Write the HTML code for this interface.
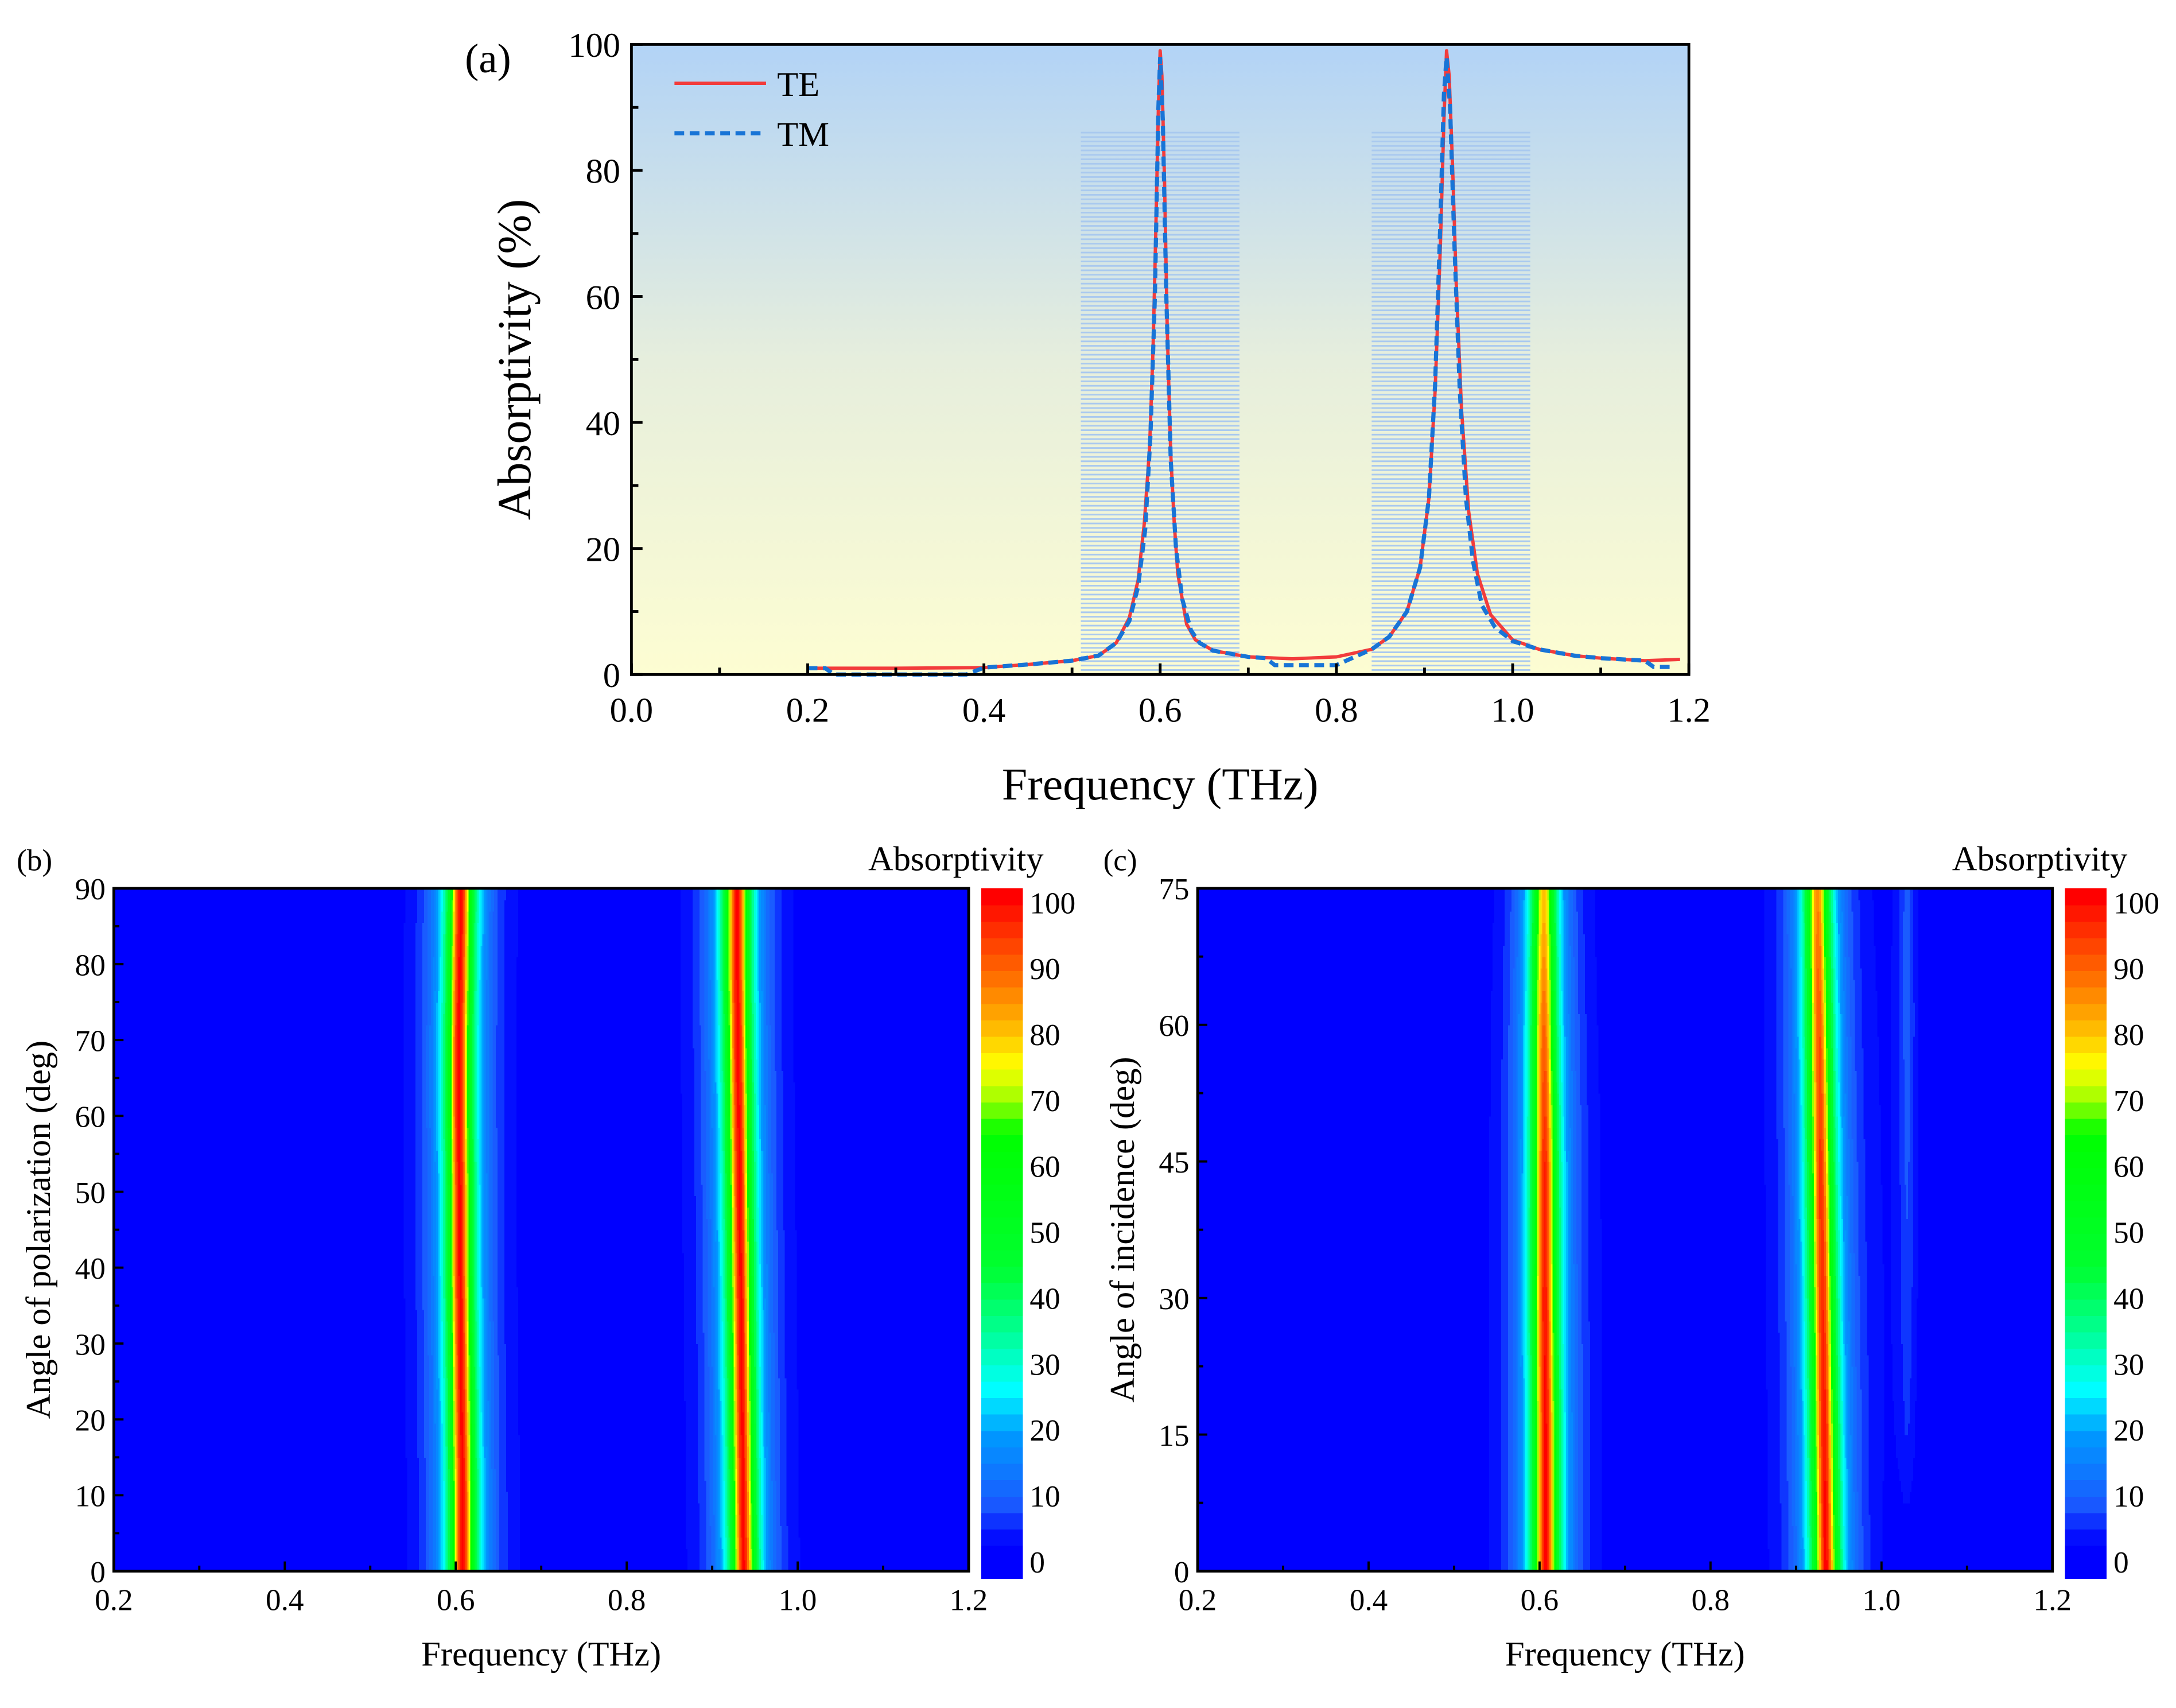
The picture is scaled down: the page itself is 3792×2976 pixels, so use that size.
<!DOCTYPE html>
<html><head><meta charset="utf-8">
<style>
html,body{margin:0;padding:0;background:#fff;}
svg{display:block;}
text{font-family:"Liberation Serif",serif;fill:#000;}
</style></head>
<body>
<svg id="fig" xmlns="http://www.w3.org/2000/svg" width="3792" height="2976" viewBox="0 0 1568 1230.6">
<defs>
<linearGradient id="bgGrad" x1="0" y1="0" x2="0" y2="1">
<stop offset="0" stop-color="#b2d3f6"/>
<stop offset="0.5" stop-color="#e6eedd"/>
<stop offset="1" stop-color="#fdfdd2"/>
</linearGradient>
</defs>
<g id="panelA"></g>
<g id="panelB"></g>
<g id="panelC"></g>
</svg>
<script>
// ---------- Panel (a) data ----------
const teFreq = [0.2,0.3,0.4,0.45,0.5,0.53,0.55,0.565,0.575,0.582,0.588,0.592,0.595,0.598,0.6,0.602,0.605,0.608,0.612,0.616,0.62,0.63,0.64,0.66,0.7,0.75,0.8,0.84,0.86,0.88,0.895,0.905,0.912,0.918,0.922,0.925,0.928,0.932,0.936,0.942,0.95,0.96,0.975,1.0,1.03,1.07,1.1,1.15,1.19];
const teVal  = [1.0,1.0,1.1,1.6,2.2,3.0,5.0,9.0,15,24,36,52,70,90,99,95,78,55,35,24,16,8,5.5,3.8,2.8,2.5,2.8,4.0,6.0,10,17,28,45,68,88,99,95,80,62,42,26,16,9.5,5.5,4.0,3.0,2.6,2.2,2.4];
const tmFreq = [0.2,0.22,0.23,0.38,0.4,0.45,0.5,0.53,0.55,0.565,0.575,0.583,0.589,0.594,0.598,0.6,0.603,0.607,0.612,0.618,0.625,0.635,0.645,0.66,0.7,0.72,0.73,0.8,0.84,0.86,0.88,0.895,0.905,0.912,0.918,0.922,0.925,0.929,0.934,0.94,0.947,0.955,0.965,0.98,1.0,1.03,1.07,1.1,1.15,1.16,1.18];
const tmVal  = [1.0,1.0,0.0,0.0,1.1,1.6,2.2,3.0,5.0,8.5,14,23,38,60,90,98,88,60,34,20,12,7,5,3.8,2.8,2.6,1.5,1.5,4.0,6.0,10,17,28,46,72,92,98,90,68,45,28,18,11,7.5,5.3,4.0,3.0,2.6,2.2,1.2,1.2];
const aXTicks = ["0.0","0.2","0.4","0.6","0.8","1.0","1.2"];
const aYTicks = ["0","20","40","60","80","100"];
const hatchBands = [[0.51,0.69],[0.84,1.02]];

// ---------- Panel (b) data ----------
const bAngles = [0,10,20,30,40,50,60,70,80,90];
const bPeak1  = [0.608,0.608,0.607,0.606,0.605,0.605,0.604,0.604,0.605,0.606];
const bAmp1   = [100,100,100,100,100,100,100,100,100,100];
const bPeak2  = [0.937,0.936,0.935,0.934,0.933,0.932,0.931,0.930,0.929,0.929];
const bAmp2   = [100,100,100,100,100,100,100,100,100,100];
const bXTicks = ["0.2","0.4","0.6","0.8","1.0","1.2"];
const bYTicks = ["0","10","20","30","40","50","60","70","80","90"];

// ---------- Panel (c) data ----------
const cAngles = [0,15,30,45,60,75];
const cPeak1  = [0.607,0.607,0.606,0.606,0.605,0.605];
const cAmp1   = [100,100,99,97,90,80];
const cPeak2  = [0.935,0.933,0.931,0.929,0.927,0.925];
const cAmp2   = [100,99,97,95,92,86];
const cPeak3  = [1.03,1.03,1.03,1.03,1.03,1.03];
const cAmp3   = [0,5,7,8,9,9];
const cYTicks = ["0","15","30","45","60","75"];

// ---------- Colorbar ----------
const cbTicks = ["0","10","20","30","40","50","60","70","80","90","100"];
const cmapPos = [0,4,10,20,27,35,45,65,70,75,80,88,95,100];
const cmapCol = ["#0000ff","#0000ff","#1a5cff","#0098ff","#00ffff","#00ff99","#00ff30","#00ff00","#a0ff00","#ffff00","#ffc000","#ff7000","#ff3000","#ff0000"];

const NS="http://www.w3.org/2000/svg";
function mk(parent, tag, attrs, txt){
  const e=document.createElementNS(NS,tag);
  for(const k in attrs) e.setAttribute(k,attrs[k]);
  if(txt!==undefined) e.textContent=txt;
  parent.appendChild(e); return e;
}
function hex2rgb(h){return [parseInt(h.substr(1,2),16),parseInt(h.substr(3,2),16),parseInt(h.substr(5,2),16)];}
function cmap(v){
  v=Math.max(0,Math.min(100,v));
  for(let i=0;i<cmapPos.length-1;i++){
    if(v<=cmapPos[i+1]){
      const t=(v-cmapPos[i])/(cmapPos[i+1]-cmapPos[i]);
      const a=hex2rgb(cmapCol[i]), b=hex2rgb(cmapCol[i+1]);
      return "rgb("+a.map((x,j)=>Math.round(x+(b[j]-x)*t)).join(",")+")";
    }
  }
  return cmapCol[cmapCol.length-1];
}
function interp(xs,ys,x){
  if(x<=xs[0]) return ys[0];
  for(let i=0;i<xs.length-1;i++){ if(x<=xs[i+1]){const t=(x-xs[i])/(xs[i+1]-xs[i]);return ys[i]+(ys[i+1]-ys[i])*t;} }
  return ys[ys.length-1];
}

// ================= Panel A =================
(function(){
  const g=document.getElementById('panelA');
  const L=455,R=1217,T=32,B=486;
  const xs=f=>L+f/1.2*(R-L), ys=v=>B-v/100*(B-T);
  let r=mk(g,'rect',{x:L,y:T,width:R-L,height:B-T,fill:'url(#bgGrad)'});
   
  hatchBands.forEach((bd,i)=>{
    const hg=mk(g,'g',{stroke:'#a9c9ef','stroke-width':1.2});
     
    for(let y=ys(86);y<B;y+=3.2){ mk(hg,'line',{x1:xs(bd[0]),x2:xs(bd[1]),y1:y,y2:y}); }
  });
  let p=mk(g,'polyline',{points:teFreq.map((f,i)=>xs(f)+","+ys(teVal[i])).join(" "),fill:'none',stroke:'#f23c3c','stroke-width':2.4,'stroke-linejoin':'round'});
   
  p=mk(g,'polyline',{points:tmFreq.map((f,i)=>xs(f)+","+ys(tmVal[i])).join(" "),fill:'none',stroke:'#1874d6','stroke-width':3,'stroke-dasharray':'7,4'});
   
  r=mk(g,'rect',{x:L,y:T,width:R-L,height:B-T,fill:'none',stroke:'#000','stroke-width':2});
   
  aXTicks.forEach((t,i)=>{
    const f=i*0.2, x=xs(f);
    mk(g,'line',{x1:x,x2:x,y1:B,y2:B-8,stroke:'#000','stroke-width':2});
    if(i<aXTicks.length-1) mk(g,'line',{x1:xs(f+0.1),x2:xs(f+0.1),y1:B,y2:B-5,stroke:'#000','stroke-width':2});
    const tx=mk(g,'text',{x:x,y:B+34,'font-size':25,'text-anchor':'middle'},t);
     
  });
  aYTicks.forEach((t,i)=>{
    const v=i*20, y=ys(v);
    mk(g,'line',{x1:L,x2:L+8,y1:y,y2:y,stroke:'#000','stroke-width':2});
    if(v<100) mk(g,'line',{x1:L,x2:L+5,y1:ys(v+10),y2:ys(v+10),stroke:'#000','stroke-width':2});
    const tx=mk(g,'text',{x:L-8,y:y+9,'font-size':25,'text-anchor':'end'},t);
     
  });
  let t=mk(g,'text',{x:(L+R)/2,y:576,'font-size':33,'text-anchor':'middle'},'Frequency (THz)');
   
  t=mk(g,'text',{x:0,y:0,'font-size':34,'text-anchor':'middle',transform:'translate(382,259) rotate(-90)'},'Absorptivity (%)');
   
  t=mk(g,'text',{x:335,y:52,'font-size':30},'(a)');
   
  const lg=mk(g,'g',{});
   
  let e=mk(lg,'line',{x1:486,x2:552,y1:60,y2:60,stroke:'#f23c3c','stroke-width':2.4});
   
  e=mk(lg,'text',{x:560,y:69,'font-size':25},'TE');
   
  e=mk(lg,'line',{x1:486,x2:552,y1:96,y2:96,stroke:'#1874d6','stroke-width':3,'stroke-dasharray':'7,4'});
   
  e=mk(lg,'text',{x:560,y:105,'font-size':25},'TM');
   
})();

// ================= Heatmaps =================
function heatPanel(gid, opts){
  const g=document.getElementById(gid);
  const {L,R,T,B,angles,peaks,yTicks,yMax,yTitle,label,labelX}=opts;
  const xs=f=>L+(f-0.2)/1.0*(R-L), ys=a=>B-a/yMax*(B-T);
  const W=0.014;
  const hm=mk(g,'g',{'shape-rendering':'crispEdges'});
   
  const nRows=60, df=0.002;
  for(let r=0;r<nRows;r++){
    const a0=r*yMax/nRows, a1=(r+1)*yMax/nRows, am=(a0+a1)/2;
    const pk=peaks.map(p=>({c:interp(angles,p.c,am),a:interp(angles,p.a,am),w:p.w||W}));
    let runStart=0.2, runCol=null;
    for(let f=0.2; f<=1.2+1e-9; f+=df){
      let v=0.5;
      pk.forEach(p=>{const x=(f-p.c)/p.w; v+=p.a/(1+x*x);});
      const q=Math.floor(v/2.5)*2.5;
      const col=cmap(q);
      if(runCol===null){runCol=col;runStart=f;}
      else if(col!==runCol){
        mk(hm,'rect',{x:xs(Math.max(0.2,runStart-df/2)),y:ys(a1),width:xs(f-df/2)-xs(Math.max(0.2,runStart-df/2))+0.4,height:ys(a0)-ys(a1)+0.4,fill:runCol});
        runCol=col; runStart=f;
      }
    }
    mk(hm,'rect',{x:xs(Math.max(0.2,runStart-df/2)),y:ys(a1),width:R-xs(Math.max(0.2,runStart-df/2)),height:ys(a0)-ys(a1)+0.4,fill:runCol});
  }
  let r=mk(g,'rect',{x:L,y:T,width:R-L,height:B-T,fill:'none',stroke:'#000','stroke-width':2});
   
  bXTicks.forEach((t,i)=>{
    const f=0.2+i*0.2, x=xs(f);
    mk(g,'line',{x1:x,x2:x,y1:B,y2:B-7,stroke:'#000','stroke-width':1.6});
    if(i<bXTicks.length-1) mk(g,'line',{x1:xs(f+0.1),x2:xs(f+0.1),y1:B,y2:B-4,stroke:'#000','stroke-width':1.6});
    const tx=mk(g,'text',{x:x,y:B+28,'font-size':22,'text-anchor':'middle'},t);
     
  });
  const step=yMax/(yTicks.length-1);
  yTicks.forEach((t,i)=>{
    const a=i*step, y=ys(a);
    mk(g,'line',{x1:L,x2:L+7,y1:y,y2:y,stroke:'#000','stroke-width':1.6});
    if(i<yTicks.length-1) mk(g,'line',{x1:L,x2:L+4,y1:ys(a+step/2),y2:ys(a+step/2),stroke:'#000','stroke-width':1.6});
    const tx=mk(g,'text',{x:L-6,y:y+8,'font-size':22,'text-anchor':'end'},t);
     
  });
  let t=mk(g,'text',{x:(L+R)/2,y:1200,'font-size':25,'text-anchor':'middle'},'Frequency (THz)');
   
  t=mk(g,'text',{x:0,y:0,'font-size':25,'text-anchor':'middle',transform:'translate('+(L-46)+','+((T+B)/2)+') rotate(-90)'},yTitle);
   
  t=mk(g,'text',{x:labelX,y:627,'font-size':22},label);
   
  const cb=mk(g,'g',{'shape-rendering':'crispEdges'});
   
  const cbL=R+9, cbW=30, cbT=640, cbB=1137;
  const nLev=42;
  for(let k=0;k<nLev;k++){
    const v0=k*102.5/nLev;
    const y1=cbB-(k+1)*(cbB-cbT)/nLev, y0=cbB-k*(cbB-cbT)/nLev;
    mk(cb,'rect',{x:cbL,y:y1,width:cbW,height:y0-y1+0.5,fill:cmap(v0)});
  }
  cbTicks.forEach((tk,i)=>{
    const v=i*10, y=1125-v*4.75;
    const tx=mk(g,'text',{x:cbL+cbW+5,y:y+8,'font-size':22},tk);
     
  });
  t=mk(g,'text',{x:R+54,y:627,'font-size':25,'text-anchor':'end'},'Absorptivity');
   
}

heatPanel('panelB',{L:82,R:698,T:640,B:1132,angles:bAngles,
  peaks:[{c:bPeak1,a:bAmp1},{c:bPeak2,a:bAmp2}],
  yTicks:bYTicks,yMax:90,yTitle:'Angle of polarization (deg)',label:'(b)',labelX:12});
heatPanel('panelC',{L:863,R:1479,T:640,B:1132,angles:cAngles,
  peaks:[{c:cPeak1,a:cAmp1},{c:cPeak2,a:cAmp2},{c:cPeak3,a:cAmp3,w:0.01}],
  yTicks:cYTicks,yMax:75,yTitle:'Angle of incidence (deg)',label:'(c)',labelX:795});
</script>
</body></html>
